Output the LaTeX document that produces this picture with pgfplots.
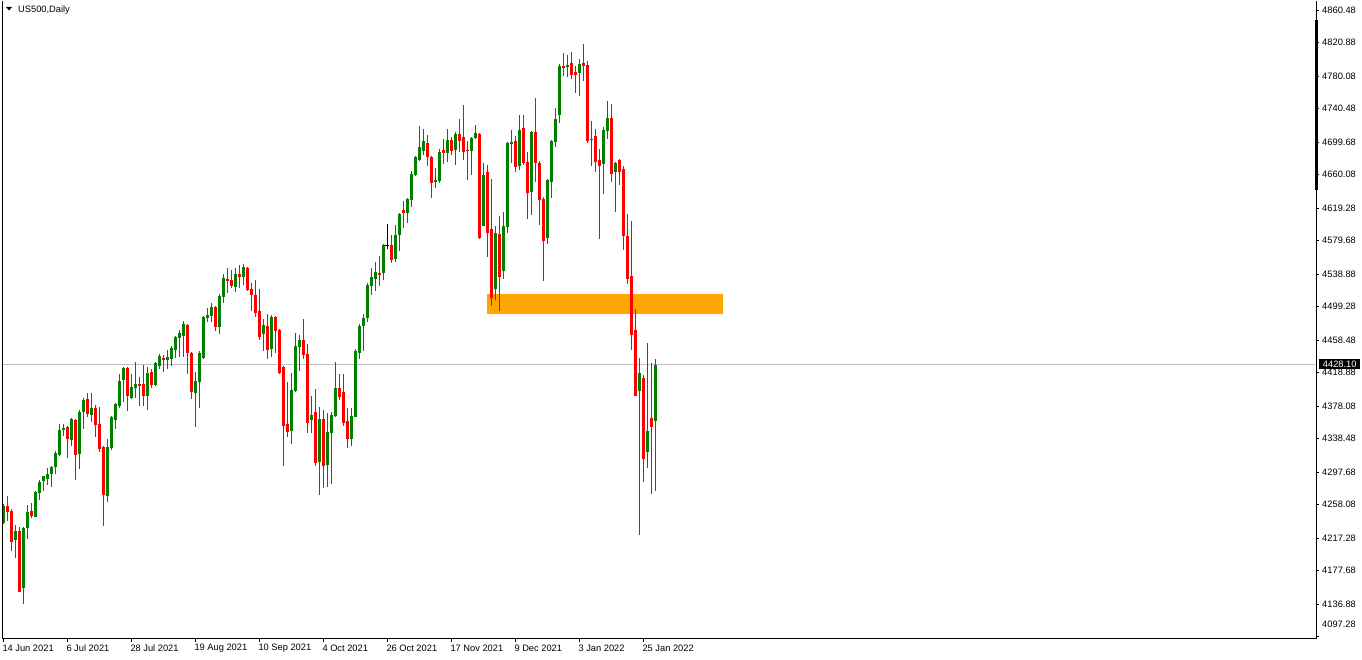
\documentclass[border=0pt]{standalone}
\usepackage{fontspec}
\setmainfont{Liberation Sans}
\usepackage{pgfplots}
\usepackage{pgfplotstable}
\pgfplotsset{compat=1.18}
\definecolor{upc}{RGB}{0,128,0}
\definecolor{dnc}{RGB}{255,0,0}
\definecolor{zone}{RGB}{255,165,0}
\definecolor{pline}{RGB}{192,192,192}

\pgfplotstableread{
i O H L C
0 4235.2 4258.8 4234.4 4256.4
1 4256.4 4268.5 4238.5 4248.6
2 4250.3 4252.7 4202.0 4212.9
3 4215.3 4233.2 4193.4 4225.9
4 4225.9 4230.8 4151.0 4152.0
5 4156.9 4230.8 4137.4 4230.0
6 4230.0 4257.6 4216.6 4249.0
7 4250.3 4260.0 4241.7 4244.2
8 4243.4 4275.0 4243.0 4273.8
9 4272.6 4288.4 4264.1 4286.0
10 4287.2 4293.3 4275.0 4292.9
11 4289.6 4303.0 4282.3 4295.3
12 4295.7 4305.5 4279.9 4304.3
13 4304.3 4323.8 4295.7 4321.3
14 4318.5 4356.2 4317.3 4348.9
15 4348.9 4356.2 4342.0 4351.4
16 4352.6 4353.8 4315.2 4338.4
17 4337.2 4363.5 4329.8 4362.3
18 4361.1 4362.0 4288.4 4318.9
19 4320.1 4373.3 4301.8 4370.8
20 4371.3 4388.3 4350.5 4385.5
21 4386.7 4394.0 4365.2 4368.8
22 4367.6 4394.0 4359.1 4375.7
23 4375.7 4379.4 4340.8 4355.4
24 4356.2 4376.9 4322.5 4326.2
25 4328.2 4329.4 4232.4 4270.2
26 4268.9 4338.0 4261.6 4328.2
27 4327.4 4366.0 4325.0 4365.2
28 4361.1 4381.5 4350.5 4380.6
29 4378.6 4417.1 4376.1 4408.6
30 4409.8 4426.1 4383.4 4424.8
31 4424.8 4425.5 4372.5 4390.7
32 4388.3 4417.1 4387.1 4401.3
33 4400.5 4431.7 4388.3 4405.0
34 4405.0 4413.5 4378.6 4402.5
35 4405.0 4428.1 4378.6 4390.7
36 4390.7 4425.6 4373.7 4418.3
37 4419.6 4423.2 4400.5 4404.1
38 4404.1 4431.7 4402.9 4430.5
39 4427.3 4441.5 4423.2 4439.1
40 4437.0 4440.3 4420.0 4434.6
41 4434.2 4446.4 4423.6 4437.8
42 4435.4 4451.2 4427.3 4448.8
43 4446.8 4463.4 4437.0 4462.2
44 4460.6 4470.7 4438.2 4467.1
45 4463.4 4481.7 4438.2 4478.0
46 4476.8 4478.0 4417.5 4443.1
47 4442.7 4443.5 4387.1 4395.6
48 4394.4 4419.6 4353.0 4408.6
49 4407.8 4445.1 4376.1 4442.7
50 4437.0 4487.5 4436.0 4486.6
51 4485.3 4497.5 4480.5 4489.0
52 4487.8 4503.6 4480.5 4498.7
53 4498.7 4499.5 4469.9 4474.8
54 4474.8 4514.6 4466.3 4512.1
55 4511.3 4538.9 4504.0 4534.1
56 4532.8 4546.2 4515.8 4530.4
57 4531.6 4543.8 4521.9 4524.3
58 4523.5 4546.2 4517.0 4538.9
59 4538.9 4549.9 4521.9 4535.3
60 4535.3 4551.1 4525.5 4547.5
61 4546.2 4547.0 4518.2 4519.4
62 4520.7 4528.0 4493.9 4513.4
63 4513.4 4531.6 4486.6 4491.4
64 4493.9 4520.7 4458.5 4462.6
65 4466.3 4484.1 4445.6 4476.8
66 4475.6 4490.2 4435.8 4446.8
67 4448.0 4489.0 4438.2 4487.0
68 4487.0 4487.8 4443.1 4469.9
69 4470.7 4471.5 4417.1 4418.4
70 4425.7 4426.5 4305.5 4354.2
71 4356.2 4407.4 4340.8 4346.9
72 4348.1 4418.4 4332.3 4397.6
73 4396.8 4467.1 4395.8 4451.2
74 4450.4 4464.6 4421.2 4458.5
75 4458.5 4484.1 4435.8 4440.7
76 4441.5 4453.7 4345.7 4357.9
77 4361.5 4390.7 4345.7 4367.2
78 4370.8 4398.9 4305.5 4309.1
79 4310.4 4376.9 4270.2 4362.3
80 4362.3 4373.3 4278.7 4305.5
81 4306.7 4369.6 4279.9 4346.5
82 4345.7 4370.8 4283.6 4367.6
83 4366.4 4431.7 4365.0 4400.1
84 4400.1 4417.1 4385.9 4389.5
85 4395.2 4417.1 4354.2 4357.9
86 4359.5 4375.7 4327.4 4338.4
87 4338.4 4375.7 4329.8 4366.0
88 4365.2 4447.6 4364.5 4445.1
89 4443.1 4478.0 4435.8 4475.6
90 4475.6 4490.2 4445.6 4485.3
91 4485.7 4528.0 4480.9 4525.5
92 4524.3 4546.2 4513.8 4535.3
93 4533.2 4553.5 4518.6 4541.4
94 4540.2 4560.9 4524.7 4538.1
95 4540.6 4575.5 4532.0 4574.3
96 4573.8 4599.8 4569.8 4573.8
97 4574.3 4586.4 4552.7 4556.4
98 4557.6 4598.6 4554.0 4586.4
99 4586.4 4612.8 4567.4 4612.0
100 4616.9 4627.8 4595.4 4613.6
101 4613.6 4631.5 4601.5 4630.3
102 4629.5 4664.4 4620.9 4660.7
103 4659.5 4682.2 4658.3 4681.4
104 4677.8 4719.2 4676.6 4693.6
105 4689.2 4715.5 4684.3 4700.9
106 4698.5 4708.2 4670.9 4681.8
107 4681.4 4682.2 4631.9 4650.2
108 4651.4 4668.0 4644.1 4653.4
109 4652.6 4691.2 4650.2 4687.5
110 4690.0 4703.4 4673.3 4686.7
111 4686.7 4715.5 4675.8 4702.1
112 4702.1 4705.8 4684.3 4689.2
113 4690.4 4711.9 4672.1 4709.5
114 4709.5 4727.7 4687.9 4701.3
115 4705.8 4744.8 4678.2 4687.9
116 4690.0 4701.3 4653.8 4688.7
117 4689.2 4705.8 4659.9 4704.6
118 4704.6 4720.4 4703.4 4710.7
119 4709.9 4711.1 4582.0 4583.2
120 4597.8 4674.1 4597.0 4659.5
121 4663.2 4671.7 4560.0 4589.3
122 4593.7 4654.6 4500.4 4510.1
123 4521.1 4597.4 4507.7 4588.9
124 4587.7 4609.6 4494.3 4535.7
125 4543.0 4614.4 4533.2 4597.4
126 4596.6 4700.1 4589.3 4698.9
127 4697.7 4714.3 4674.5 4700.1
128 4700.9 4707.0 4663.6 4669.7
129 4670.9 4732.6 4666.0 4714.3
130 4716.8 4732.6 4672.1 4674.5
131 4675.3 4687.5 4606.3 4638.0
132 4639.2 4712.7 4611.2 4711.9
133 4711.9 4753.3 4651.4 4674.5
134 4674.1 4676.6 4599.0 4629.5
135 4630.7 4632.7 4530.8 4579.5
136 4583.2 4654.2 4575.9 4653.4
137 4651.4 4701.7 4631.9 4700.9
138 4700.1 4741.1 4694.0 4727.7
139 4733.0 4794.7 4723.3 4792.3
140 4792.3 4808.1 4780.5 4790.2
141 4791.5 4805.7 4779.3 4793.5
142 4795.9 4809.3 4776.4 4781.7
143 4785.0 4792.3 4759.8 4781.7
144 4784.2 4800.8 4756.1 4794.7
145 4795.9 4819.1 4774.4 4792.7
146 4793.5 4798.4 4698.9 4701.3
147 4702.6 4725.3 4670.9 4703.4
148 4707.0 4715.5 4663.6 4675.8
149 4677.8 4691.2 4582.0 4670.9
150 4673.3 4718.0 4636.8 4714.3
151 4713.5 4749.6 4703.8 4728.9
152 4728.9 4746.0 4651.4 4661.1
153 4663.6 4675.8 4614.9 4674.1
154 4677.8 4679.0 4647.7 4663.6
155 4666.8 4670.5 4568.6 4585.6
156 4585.2 4612.0 4527.2 4533.2
157 4536.5 4603.5 4446.8 4465.0
158 4470.7 4496.3 4389.9 4390.7
159 4396.8 4436.6 4221.4 4418.4
160 4412.3 4415.9 4286.0 4314.0
161 4322.5 4454.9 4303.0 4347.7
162 4363.5 4430.9 4271.4 4353.0
163 4360.3 4435.4 4275.0 4428.1
}\candles

\begin{document}
\begin{tikzpicture}[font=\fontsize{9.3}{11}\selectfont]
\useasboundingbox (-2pt,-21pt) rectangle (1360pt,639pt);
\begin{axis}[
  at={(0pt,0pt)}, anchor=south west,
  scale only axis, width=1314pt, height=638pt,
  xmin=-0.325, xmax=328.175, ymin=4094.36, ymax=4871.44,
  axis x line*=bottom, axis y line*=right,
  axis line style={black, line width=1pt, -},
  xtick={0,16,...,160},
  xticklabels={14 Jun 2021,6 Jul 2021,28 Jul 2021,19 Aug 2021,10 Sep 2021,4 Oct 2021,26 Oct 2021,17 Nov 2021,9 Dec 2021,3 Jan 2022,25 Jan 2022},
  ytick={4097.28,4136.88,4177.68,4217.28,4258.08,4297.68,4338.48,4378.08,4418.88,4458.48,4499.28,4538.88,4579.68,4619.28,4660.08,4699.68,4740.48,4780.08,4820.88,4860.48},
  yticklabels={,4136.88,4177.68,4217.28,4258.08,4297.68,4338.48,4378.08,4418.88,4458.48,4499.28,4538.88,4579.68,4619.28,4660.08,4699.68,4740.48,4780.08,4820.88,4860.48},
  tick align=outside, major tick length=3pt,
  tick style={black, line width=0.8pt},
  xticklabel style={anchor=west, inner sep=0pt, xshift=-1pt, yshift=-6.5pt},
  yticklabel style={anchor=west, inner sep=0pt, xshift=3pt},
]
\fill[zone] (axis cs:120.9,4490.2) rectangle (axis cs:179.85,4514.6);
\draw[pline, line width=1pt] (axis cs:-0.325,4428.1) -- (axis cs:328.175,4428.1);
% up candles
\addplot[draw=none, mark=none, forget plot,
  restrict expr to domain={\thisrow{C}-\thisrow{O}}{0.01:2000},
  error bars/.cd, y dir=plus, y explicit, error mark=none,
  error bar style={draw=upc, line width=1pt}]
  table[x=i, y=L, y error plus expr=\thisrow{H}-\thisrow{L}] {\candles};
\addplot[draw=none, mark=none, forget plot,
  restrict expr to domain={\thisrow{C}-\thisrow{O}}{0.01:2000},
  error bars/.cd, y dir=plus, y explicit, error mark=none,
  error bar style={draw=upc, line width=3pt}]
  table[x=i, y=O, y error plus expr=\thisrow{C}-\thisrow{O}] {\candles};
% down candles
\addplot[draw=none, mark=none, forget plot,
  restrict expr to domain={\thisrow{C}-\thisrow{O}}{-2000:-0.01},
  error bars/.cd, y dir=plus, y explicit, error mark=none,
  error bar style={draw=dnc, line width=1pt}]
  table[x=i, y=L, y error plus expr=\thisrow{H}-\thisrow{L}] {\candles};
\addplot[draw=none, mark=none, forget plot,
  restrict expr to domain={\thisrow{C}-\thisrow{O}}{-2000:-0.01},
  error bars/.cd, y dir=plus, y explicit, error mark=none,
  error bar style={draw=dnc, line width=3pt}]
  table[x=i, y=C, y error plus expr=\thisrow{O}-\thisrow{C}] {\candles};
% doji
\addplot[draw=none, mark=none, forget plot,
  restrict expr to domain={\thisrow{C}-\thisrow{O}}{-0.005:0.005},
  error bars/.cd, y dir=plus, y explicit, error mark=none,
  error bar style={draw=black, line width=1pt}]
  table[x=i, y=L, y error plus expr=\thisrow{H}-\thisrow{L}] {\candles};
\addplot[only marks, mark=-, mark size=2pt, black, mark options={line width=1pt}, forget plot,
  restrict expr to domain={\thisrow{C}-\thisrow{O}}{-0.005:0.005}]
  table[x=i, y=O] {\candles};
\end{axis}
% left border
\draw[black, line width=1pt] (0.5pt,0pt) -- (0.5pt,638pt);
% scale indicator on right axis
\fill[black] (1312.5pt,449pt) rectangle (1316pt,619pt);
% bottom price label (raised by the terminal)
\node[anchor=west, inner sep=0pt] at (1320pt,15pt) {4097.28};
% current price label
\node[fill=black, text=white, anchor=west, inner xsep=0pt, inner ysep=0pt,
  minimum width=41pt, minimum height=10pt] at (1317pt,275pt) {4428.10};
% title
\fill[black] (4pt,632pt) -- (10pt,632pt) -- (7pt,628.5pt) -- cycle;
\node[anchor=west, inner sep=0pt] at (16pt,629pt) {US500,Daily};
\end{tikzpicture}
\end{document}
